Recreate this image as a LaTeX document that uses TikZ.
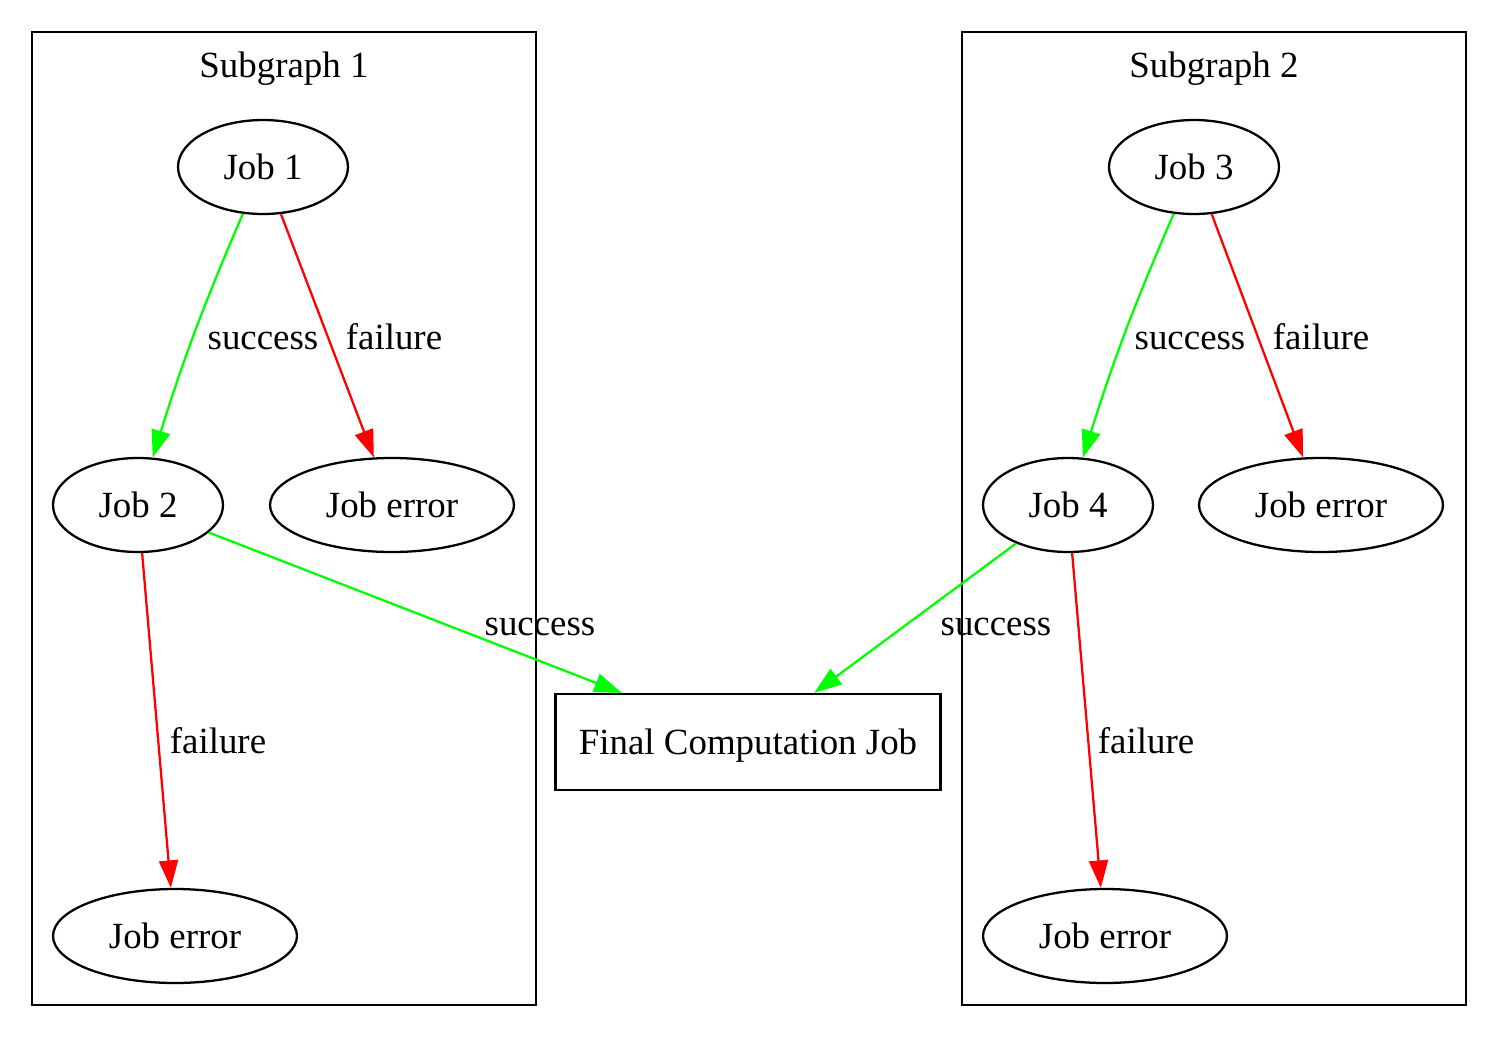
\documentclass[tikz,border=0pt]{standalone}
\usepackage{fontspec}
\setmainfont{Liberation Serif}
\usetikzlibrary{shapes.geometric,arrows.meta}
\definecolor{okgreen}{RGB}{0,255,0}
\definecolor{badred}{RGB}{255,0,0}

\begin{document}
\begin{tikzpicture}[x=0.02cm,y=-0.02cm,line width=1.3pt,
    >={Triangle[length=0.55cm,width=0.38cm]},
    txt/.style={font=\fontsize{21}{25}\selectfont,text height=0.52cm,text depth=0.03cm},
    job/.style={txt,draw,ellipse,inner sep=0pt,minimum width=3.4cm,minimum height=1.88cm},
    errjob/.style={job,minimum width=4.88cm},
    ok/.style={->,draw=okgreen},
    bad/.style={->,draw=badred},
    lbl/.style={font=\fontsize{21}{25}\selectfont,inner sep=0pt,anchor=base}]
\useasboundingbox (0,0) rectangle (1498,1038);

% clusters
\draw (32,32) rectangle (536,1005);
\draw (962,32) rectangle (1466,1005);
\node[lbl] (sub1) at (284,77) {Subgraph 1};
\node[lbl] (sub2) at (1214,77) {Subgraph 2};

% jobs
\node[job] (job1) at (263,167) {Job 1};
\node[job] (job2) at (138,505) {Job 2};
\node[errjob] (err1) at (392,505) {Job error};
\node[errjob] (err2) at (175,936) {Job error};

\node[job] (job3) at (1194,167) {Job 3};
\node[job] (job4) at (1068,505) {Job 4};
\node[errjob] (err3) at (1321,505) {Job error};
\node[errjob] (err4) at (1105,936) {Job error};

\node[txt,draw,minimum width=7.7cm,minimum height=1.92cm] (final) at (748,742) {Final Computation Job};

% edges
\draw[ok] (job1) to[bend right=3] (job2);
\node[lbl] at (263,349) {success};
\draw[bad] (job1) -- (err1);
\node[lbl] at (394,349) {failure};
\draw[ok] (job2) -- (final);
\node[lbl] at (540,635) {success};
\draw[bad] (job2) -- (err2);
\node[lbl] at (218,753) {failure};

\draw[ok] (job3) to[bend right=3] (job4);
\node[lbl] at (1190,349) {success};
\draw[bad] (job3) -- (err3);
\node[lbl] at (1321,349) {failure};
\draw[ok] (job4) -- (final);
\node[lbl] at (996,635) {success};
\draw[bad] (job4) -- (err4);
\node[lbl] at (1146,753) {failure};
\end{tikzpicture}
\end{document}
